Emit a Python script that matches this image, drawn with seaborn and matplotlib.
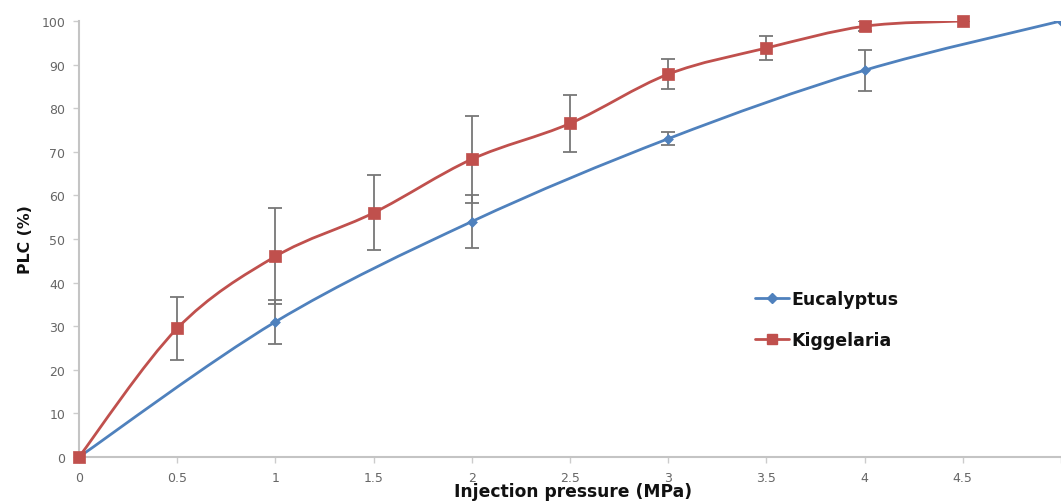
import numpy as np
import pandas as pd
import matplotlib
matplotlib.use("Agg")
import matplotlib.pyplot as plt
from matplotlib.path import Path
from matplotlib.patches import PathPatch
from matplotlib.lines import Line2D
import seaborn as sns

# ---- data ----
euc_x = [0, 1, 2, 3, 4, 5]
euc_y = [0, 31, 54, 73, 88.7, 100]
euc_err = [0, 5, 6, 1.5, 4.7, 0]

kig_x = [0, 0.5, 1, 1.5, 2, 2.5, 3, 3.5, 4, 4.5]
kig_y = [0, 29.5, 46, 56, 68.3, 76.5, 87.8, 93.8, 98.8, 100]
kig_err = [0, 7.2, 11, 8.6, 10, 6.6, 3.5, 2.7, 1.2, 0]

x_ticks = [0, 0.5, 1, 1.5, 2, 2.5, 3, 3.5, 4, 4.5, 5]
x_ticklabels = ["0", "0.5", "1", "1.5", "2", "2.5", "3", "3.5", "4", "4.5", ""]
y_ticks = list(range(0, 101, 10))

BLUE = "#4F81BD"
RED = "#C0504D"
ERR = "#777777"

sns.set_theme(style="white")
plt.rcParams["font.family"] = ["DejaVu Sans"]

fig = plt.figure(figsize=(10.61, 5.02), dpi=100)
ax = fig.add_axes([79 / 1061, 44 / 502, 1 - 79 / 1061, 436 / 502])


def smooth_path(xs, ys, t=0.5 / 3):
    """Excel-style smoothed line as cubic Bezier segments."""
    xs = np.asarray(xs, float)
    ys = np.asarray(ys, float)
    n = len(xs)
    verts = [(xs[0], ys[0])]
    codes = [Path.MOVETO]
    for i in range(n - 1):
        p0 = np.array([xs[max(i - 1, 0)], ys[max(i - 1, 0)]])
        p1 = np.array([xs[i], ys[i]])
        p2 = np.array([xs[i + 1], ys[i + 1]])
        p3 = np.array([xs[min(i + 2, n - 1)], ys[min(i + 2, n - 1)]])
        c1 = p1 + (p2 - p0) * t
        c2 = p2 - (p3 - p1) * t
        verts += [tuple(c1), tuple(c2), tuple(p2)]
        codes += [Path.CURVE4] * 3
    return Path(verts, codes)


# error bars
ax.errorbar(euc_x, euc_y, yerr=euc_err, fmt="none", ecolor=ERR, elinewidth=1.3,
            capsize=5, capthick=1.3, zorder=2)
ax.errorbar(kig_x, kig_y, yerr=kig_err, fmt="none", ecolor=ERR, elinewidth=1.3,
            capsize=5, capthick=1.3, zorder=2)

# smooth lines
ax.add_patch(PathPatch(smooth_path(euc_x, euc_y), facecolor="none", edgecolor=BLUE,
                       lw=2, zorder=3))
ax.add_patch(PathPatch(smooth_path(kig_x, kig_y), facecolor="none", edgecolor=RED,
                       lw=2, zorder=3))

# markers via seaborn
df_e = pd.DataFrame({"x": euc_x, "y": euc_y})
df_k = pd.DataFrame({"x": kig_x, "y": kig_y})
sns.scatterplot(data=df_e, x="x", y="y", ax=ax, marker="D", s=25, color=BLUE,
                edgecolor=BLUE, linewidth=0.5, zorder=4)
sns.scatterplot(data=df_k, x="x", y="y", ax=ax, marker="s", s=70, color=RED,
                edgecolor=RED, linewidth=0.5, zorder=4, clip_on=False)

ax.set_xlim(0, 4.977)
ax.set_ylim(0, 100)
ax.set_xticks(x_ticks)
ax.set_xticklabels(x_ticklabels)
ax.set_yticks(y_ticks)

for s in ["top", "right"]:
    ax.spines[s].set_visible(False)
for s in ["left", "bottom"]:
    ax.spines[s].set_color("#c4c4c4")
    ax.spines[s].set_linewidth(1.5)
ax.tick_params(axis="both", which="major", direction="out", length=4, width=1,
               color="#cccccc", labelsize=9, labelcolor="#666666", pad=6,
               left=True, bottom=True)
ax.set_xlabel("")
ax.set_ylabel("")

fig.text(573 / 1061, 1 - 492 / 502, "Injection pressure (MPa)", ha="center", va="center",
         fontsize=12.3, fontweight="bold", family="DejaVu Sans", color="#111111")
fig.text(26 / 1061, 1 - 240 / 502, "PLC (%)", ha="center", va="center", rotation=90,
         fontsize=11.3, fontweight="bold", family="DejaVu Sans", color="#111111")

# legend
handles = [
    Line2D([0], [0], color=BLUE, lw=2, marker="D", markersize=5),
    Line2D([0], [0], color=RED, lw=2, marker="s", markersize=7),
]
leg = ax.legend(handles, ["Eucalyptus", "Kiggelaria"], loc="center left",
                bbox_to_anchor=(0.672, 0.315), frameon=False, handlelength=2.0,
                handletextpad=0.15, labelspacing=1.3,
                prop={"family": "DejaVu Sans", "weight": "bold", "size": 12.5})
for t in leg.get_texts():
    t.set_color("#111111")

fig.savefig("out.png", dpi=100)
